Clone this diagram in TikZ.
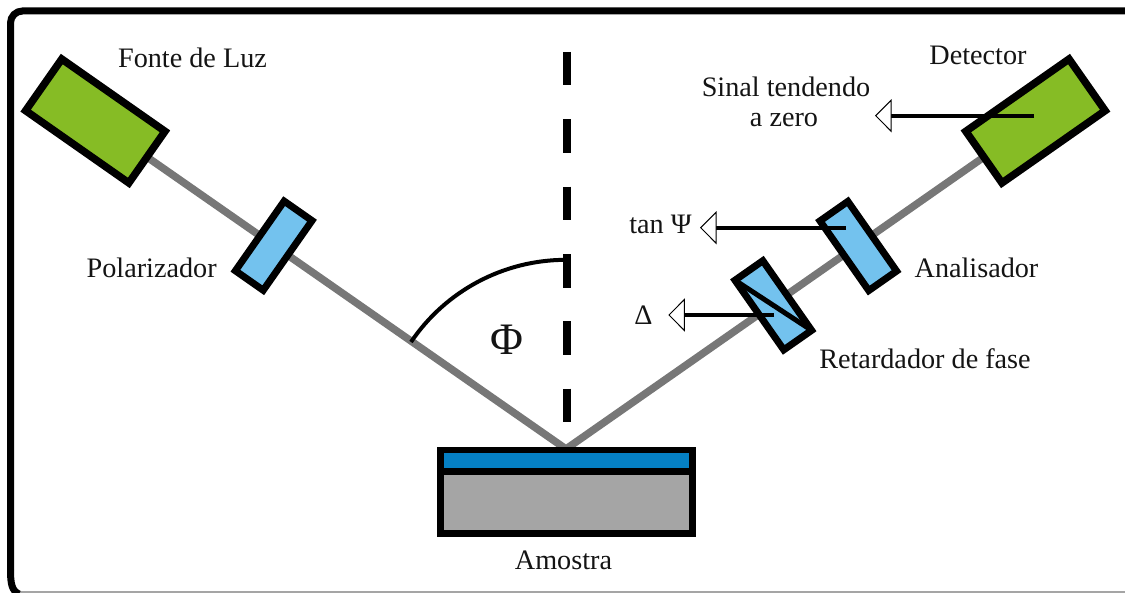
\documentclass[tikz,border=0pt]{standalone}
\usepackage{fontspec}
\setmainfont{Liberation Serif}
\usetikzlibrary{arrows.meta,backgrounds}
\definecolor{boxgreen}{HTML}{86BC25}
\definecolor{boxblue}{HTML}{73C2EE}
\definecolor{filmblue}{HTML}{0580C4}
\definecolor{subgray}{HTML}{A5A5A5}
\definecolor{beamgray}{HTML}{777777}
\definecolor{inkc}{HTML}{141414}
\tikzset{
  unit/.style={draw=black,line width=7.5pt,fill=boxgreen,minimum width=126pt,minimum height=63pt,inner sep=0pt,outer sep=0pt},
  optic/.style={draw=black,line width=7pt,fill=boxblue,minimum width=85pt,minimum height=34pt,inner sep=0pt,outer sep=0pt},
  layerbox/.style={draw=black,line width=6.5pt,minimum width=252pt,inner sep=0pt,outer sep=0pt},
  lab/.style={font=\fontsize{28.2}{31}\selectfont,text=inkc,inner sep=0pt,outer sep=0pt},
  beam/.style={draw=beamgray,line width=7.5pt},
  readout/.style={draw=black,line width=4pt,-{Triangle[length=16.5pt,width=33pt,fill=white,line width=1pt]}},
}
\begin{document}
\begin{tikzpicture}[x=1pt,y=-1pt]
\useasboundingbox (0,0) rectangle (1125,593);
% frame
\coordinate (frameTR) at (1130,11);
\coordinate (frameBS) at (10.5,570);
\coordinate (frameBE) at (19,594);
\coordinate (bottomL) at (15,592.2);
\coordinate (bottomR) at (1125,592.2);
\draw[line width=1.6pt,draw=subgray] (bottomL) -- (bottomR);
\draw[line width=7pt,rounded corners=12pt] (frameBS) |- (frameTR);
\draw[line width=7pt] (frameBS) .. controls (10.5,584) and (12,591) .. (frameBE);
% units
\node[unit,rotate=-35] (source) at (95.3,121) {};
\node[unit,rotate=35] (det) at (1035.5,121) {};
\node[optic,rotate=55] (pol) at (273.7,245.7) {};
\node[optic,rotate=-55] (ana) at (858.3,246) {};
\node[optic,rotate=-55] (ret) at (773.3,305.3) {};
\draw[line width=5pt,shorten <=2pt,shorten >=2pt] (ret.south west) -- (ret.north east);
% sample
\node[layerbox,fill=filmblue,minimum height=21.3pt] (film) at (566.5,460.65) {};
\node[layerbox,fill=subgray,minimum height=62.2pt] (sub) at (566.5,502.4) {};
% beams
\coordinate (hit) at (566,449);
\begin{scope}[on background layer]
\draw[beam] (hit) -- (source.center);
\draw[beam] (hit) -- (det.center);
\end{scope}
% normal
\coordinate (normTop) at (566.7,52);
\coordinate (normEnd) at (566.7,422);
\draw[line width=8pt,dash pattern=on 33.5pt off 33.85pt] (normTop) -- (normEnd);
% angle
\coordinate (arcStart) at (411,342);
\draw[line width=4pt] (arcStart) arc[start angle=-145.9,end angle=-90,radius=187];
% readouts
\coordinate (detSig) at (1034,115.7);
\coordinate (detTip) at (875,115.7);
\coordinate (anaSig) at (846,227.7);
\coordinate (anaTip) at (700,227.7);
\coordinate (retSig) at (774,315);
\coordinate (retTip) at (668.3,315);
\draw[readout] (detSig) -- (detTip);
\draw[readout] (anaSig) -- (anaTip);
\draw[readout] (retSig) -- (retTip);
% labels
\node[lab] (lsource) at (192.5,58) {Fonte de Luz};
\node[lab] (ldet) at (978,55) {Detector};
\node[lab] (lsig1) at (786,87) {Sinal tendendo};
\node[lab] (lsig2) at (784,120) {a zero};
\node[lab] (ltan) at (660.5,224) {tan Ψ};
\node[lab] (lana) at (976.5,268) {Analisador};
\node[lab] (ldelta) at (643.5,315) {Δ};
\node[lab] (lret) at (925,358.5) {Retardador de fase};
\node[lab] (lpol) at (151.7,268) {Polarizador};
\node[lab] (lsam) at (563.5,560.7) {Amostra};
\node[lab,font=\fontsize{45}{48}\selectfont] (lphi) at (506.7,340) {Φ};
\end{tikzpicture}
\end{document}
